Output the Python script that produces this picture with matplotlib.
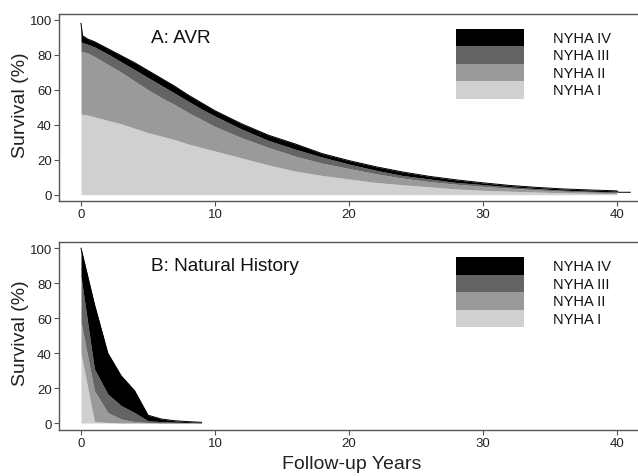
import numpy as np
import matplotlib.pyplot as plt

plt.rcParams['font.family'] = ['Liberation Sans', 'DejaVu Sans']

# Panel A: AVR, cumulative survival (%)
years_a = [0, 0.1, 0.5, 1, 2, 3, 4, 5, 6, 7, 8, 9, 10, 12, 14, 16, 18, 20,
           22, 24, 26, 28, 30, 32, 34, 36, 38, 40, 40.1, 41]
a_nyha1 = [46, 46, 45.5, 44.5, 42.5, 40.5, 38, 35.5, 33.5, 31.5, 29, 27, 25, 21,
           17, 13.5, 11, 9, 7, 5.7, 4.5, 3.3, 2.5, 2, 1.5, 1.1, 0.8, 0.6, 0, 0]
a_nyha2 = [82, 81.8, 81, 79, 74.5, 70, 65, 60, 55.5, 51.5, 47, 43, 39, 32.5,
           27, 22, 18, 15, 12, 9.5, 7.5, 6, 4.8, 3.7, 2.8, 2, 1.5, 1.1, 0, 0]
a_nyha3 = [87.5, 87, 86, 84.5, 80.5, 76, 71.5, 67, 62.5, 58, 53.5, 49, 45, 37.5,
           31, 26, 21.5, 17.5, 14, 11, 9, 7, 5.8, 4.5, 3.5, 2.6, 2, 1.6, 0, 0]
a_total = [98, 91, 89, 87.5, 83.5, 79.5, 75.5, 71, 66.5, 62, 57, 52.5, 48, 40.5,
           34, 29, 23.5, 19.5, 16, 13, 10.5, 8.5, 6.8, 5.3, 4.2, 3.3, 2.7, 2.2, 1.4, 1.4]

# Panel B: natural history
years_b = [0, 1, 2, 3, 4, 5, 6, 7, 8, 9]
b_nyha1 = [40, 0.8, 0.3, 0, 0, 0, 0, 0, 0, 0]
b_nyha2 = [58, 18.5, 6, 2.3, 0.8, 0.3, 0, 0, 0, 0]
b_nyha3 = [84, 31, 16.6, 10, 6, 1.3, 0.8, 0.5, 0.3, 0.1]
b_total = [100, 68, 40, 27, 18.5, 4.5, 2.3, 1.3, 0.8, 0.4]

classes = ['NYHA I', 'NYHA II', 'NYHA III', 'NYHA IV']
colors = ['#d0d0d0', '#9a9a9a', '#646464', '#000000']


def draw_panel(ax, years, bounds, title, ylo, yhi, fill_to):
    yrs = np.array(years, dtype=float)
    lower = np.zeros(len(years))
    for upper, c in zip(bounds, colors):
        upper = np.array(upper, dtype=float)
        ax.fill_between(yrs, lower, upper, where=yrs <= fill_to, color=c, lw=0)
        lower = upper
    # last follow-up stretch is only an outline of the total curve
    ax.plot(yrs, bounds[-1], color='black', lw=0.7)

    ax.set_xlim(-1.64, 41.57)
    ax.set_ylim(ylo, yhi)
    ax.set_xticks([0, 10, 20, 30, 40])
    ax.set_yticks([0, 20, 40, 60, 80, 100])
    ax.spines['right'].set_visible(False)
    for s in ['top', 'left', 'bottom']:
        ax.spines[s].set_color('#555555')
        ax.spines[s].set_linewidth(1.0)
    ax.tick_params(length=3.6, width=0.8, color='#555555', labelsize=9.5,
                   labelcolor='#222222', pad=1.5)
    ax.set_ylabel('Survival (%)', fontsize=14, va='center', color='#222222')
    ax.yaxis.set_label_coords(-0.067, 0.52)

    ax.text(0.159, 0.877, title, transform=ax.transAxes, fontsize=13.7,
            va='center', ha='left', color='#111111')

    # legend: stacked boxes, NYHA IV on top
    top = 0.92
    band = 0.0936
    for i, (name, c) in enumerate(zip(classes[::-1], colors[::-1])):
        y0 = top - (i + 1) * band
        ax.add_patch(plt.Rectangle((0.6857, y0), 0.1174, band, color=c, lw=0,
                                   transform=ax.transAxes, clip_on=False))
        ax.text(0.853, y0 + band / 2, name, transform=ax.transAxes,
                fontsize=10.5, va='center', ha='left', color='#111111')


fig = plt.figure(figsize=(6.38, 4.77), dpi=100)
ax_a = fig.add_axes([0.0925, 0.5765, 0.9075, 0.392])
ax_b = fig.add_axes([0.0925, 0.0971, 0.9075, 0.3929])

draw_panel(ax_a, years_a, [a_nyha1, a_nyha2, a_nyha3, a_total], 'A: AVR',
           -3.6, 103.3, 40)
draw_panel(ax_b, years_b, [b_nyha1, b_nyha2, b_nyha3, b_total],
           'B: Natural History', -3.8, 103.4, 9)

fig.text(352 / 638, 1 - 465 / 477, 'Follow-up Years', ha='center', va='center',
         fontsize=14, color='#222222')

fig.savefig('out.png', dpi=100)
